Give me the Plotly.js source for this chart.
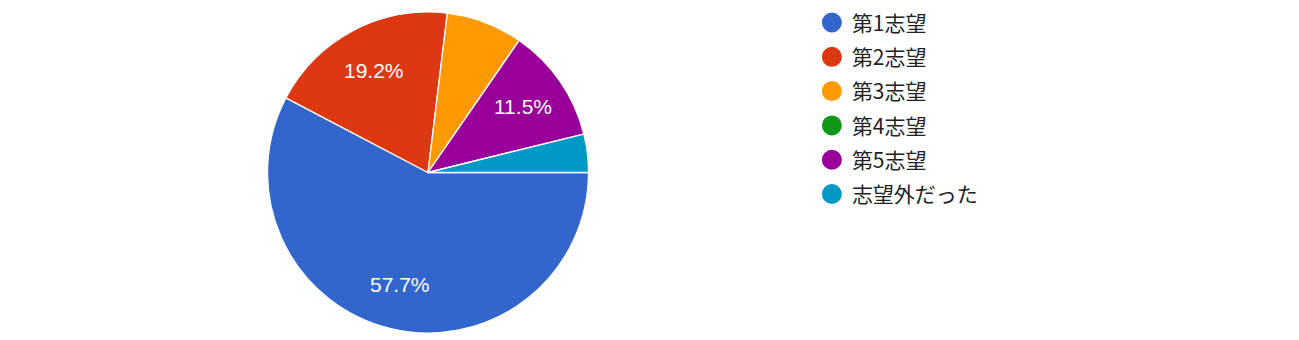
<!DOCTYPE html>
<html>
<head>
<meta charset="utf-8">
<script src="https://cdn.plot.ly/plotly-3.0.1.min.js"></script>
<style>html,body{margin:0;padding:0;background:#fff;}#chart{width:1299px;height:340px;}</style>
</head>
<body>
<div id="chart"></div>
<script>
const categories = ['第1志望', '第2志望', '第3志望', '第4志望', '第5志望', '志望外だった'];
const counts = [15, 5, 2, 0, 3, 1];
const colors = ['#3366cc', '#dc3912', '#ff9900', '#109618', '#990099', '#0099c6'];

const W = 1299, H = 340;
const M = {l: 0, r: 0, t: 12, b: 7};
const domainX = [0.0, 0.659];

const total = counts.reduce((a, b) => a + b, 0);

const pie = {
  type: 'pie',
  labels: categories,
  values: counts,
  textinfo: 'none',
  sort: false,
  direction: 'clockwise',
  rotation: 90,
  marker: {colors: colors, line: {color: '#ffffff', width: 1.3}},
  domain: {x: domainX, y: [0, 1]},
  showlegend: false,
  hoverinfo: 'none'
};

// percentage labels placed radially at the middle of each slice (Google-style)
const plotH = H - M.t - M.b;
const plotW = W - M.l - M.r;
const cx = M.l + plotW * (domainX[0] + domainX[1]) / 2;
const cy = M.t + plotH / 2;
const R = Math.min(plotW * (domainX[1] - domainX[0]), plotH) / 2;
const annotations = [];
let cum = 0;
counts.forEach((v, i) => {
  const frac = v / total;
  const mid = (cum + frac / 2) * 2 * Math.PI;
  cum += frac;
  if (frac < 0.1) return;
  const r = R * 0.72;
  const px = cx + r * Math.cos(mid);
  const py = cy + r * Math.sin(mid);
  annotations.push({
    xref: 'paper', yref: 'paper',
    x: (px - M.l) / plotW, y: 1 - (py - M.t) / plotH,
    xanchor: 'center', yanchor: 'middle',
    text: (frac * 100).toFixed(1) + '%',
    showarrow: false,
    font: {family: 'Liberation Sans, Arial, sans-serif', size: 21, color: '#ffffff'}
  });
});

const legendTraces = categories.map((c, i) => ({
  type: 'scatter',
  mode: 'markers',
  x: [null], y: [null],
  name: c,
  legendgroup: 'g' + i,
  marker: {color: colors[i], size: 16, symbol: 'circle', line: {color: colors[i], width: 4}},
  hoverinfo: 'none'
}));

const layout = {
  width: W, height: H,
  margin: M,
  paper_bgcolor: '#ffffff', plot_bgcolor: '#ffffff',
  xaxis: {visible: false}, yaxis: {visible: false},
  showlegend: true,
  annotations: annotations,
  legend: {
    x: 0.625, xanchor: 'left', y: 1.03, yanchor: 'top',
    traceorder: 'grouped', tracegroupgap: 4,
    maxheight: 1,
    font: {family: 'Noto Sans CJK JP, sans-serif', size: 21, color: '#222222'},
    itemsizing: 'trace', bgcolor: 'rgba(0,0,0,0)'
  }
};

Plotly.newPlot('chart', [pie].concat(legendTraces), layout, {displayModeBar: false, staticPlot: true});
</script>
</body>
</html>
